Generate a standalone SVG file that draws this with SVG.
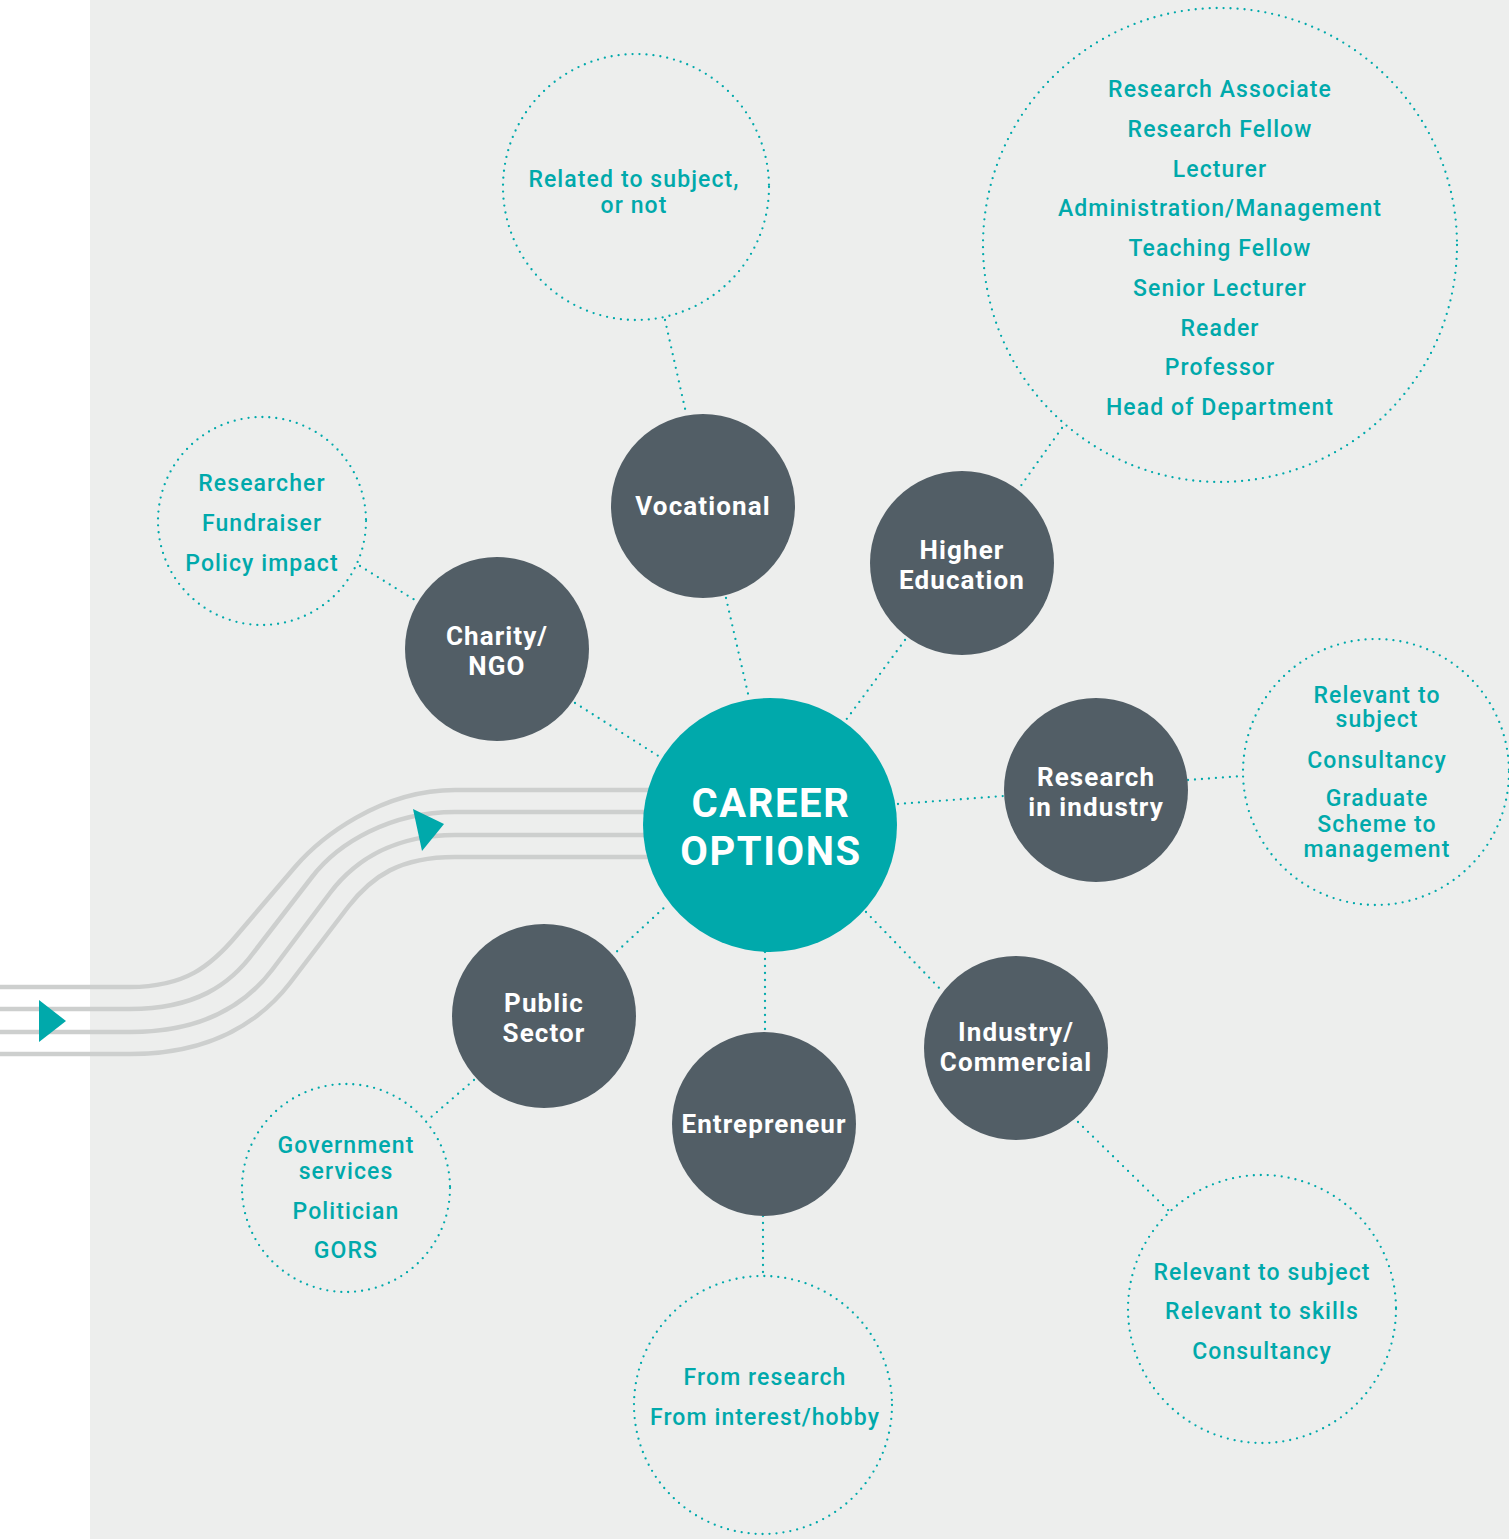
<svg xmlns="http://www.w3.org/2000/svg" width="1509" height="1539" viewBox="0 0 1509 1539">
<style>
.bg{fill:#edeeed}
.flow{fill:none;stroke:#cdcfce;stroke-width:4.5}
.arrow{fill:#00a9ab}
.dot{fill:none;stroke:#00a9ab;stroke-width:2.3;stroke-linecap:round;stroke-dasharray:0 7}
.node{fill:#525e66}
.hub{fill:#00a9ab}
.nt{font-family:Roboto,"Liberation Sans",sans-serif;font-weight:700;font-size:26px;fill:#ffffff;text-anchor:middle;letter-spacing:1.1px}
.ht{font-family:Roboto,"Liberation Sans",sans-serif;font-weight:700;font-size:40px;fill:#ffffff;text-anchor:middle;letter-spacing:1.6px}
.bt{font-family:Roboto,"Liberation Sans",sans-serif;font-weight:500;font-size:23px;fill:#00a9ab;text-anchor:middle;letter-spacing:1.1px}
</style>
<rect x="0" y="0" width="1509" height="1539" fill="#ffffff"/>
<rect class="bg" x="90" y="0" width="1419" height="1539"/>

<g id="flow-lines">
<path class="flow" d="M0 987 H130 C185 987 211 966 237 935 L295 867 C320 838 380 790 455 790 H660"/>
<path class="flow" d="M0 1009 H130 C195 1009 230 985 254 952 L312 877 C338 843 390 812 455 812 H660"/>
<path class="flow" d="M0 1032 H130 C205 1032 247 1003 272 970 L330 893 C355 860 395 835 455 835 H660"/>
<path class="flow" d="M0 1054 H130 C215 1054 263 1018 290 983 L348 907 C372 876 400 857 455 857 H660"/>
<polygon class="arrow" points="39,1000 39,1042 66,1021"/>
<polygon class="arrow" points="413,809 422,851 444,824"/>
</g>

<g id="connectors">
<line class="dot" x1="665" y1="320" x2="686" y2="413"/>
<line class="dot" x1="726" y1="598" x2="749" y2="698"/>
<line class="dot" x1="360" y1="566" x2="418" y2="602"/>
<line class="dot" x1="575" y1="703" x2="660" y2="757"/>
<line class="dot" x1="1062" y1="428" x2="1020" y2="487"/>
<line class="dot" x1="905" y1="640" x2="846" y2="720"/>
<line class="dot" x1="898" y1="804" x2="1004" y2="796"/>
<line class="dot" x1="1188" y1="780" x2="1243" y2="776"/>
<line class="dot" x1="866" y1="912" x2="943" y2="992"/>
<line class="dot" x1="1078" y1="1122" x2="1170" y2="1212"/>
<line class="dot" x1="765" y1="952" x2="765" y2="1032"/>
<line class="dot" x1="763" y1="1216" x2="763" y2="1276"/>
<line class="dot" x1="612" y1="956" x2="667" y2="905"/>
<line class="dot" x1="474" y1="1080" x2="430" y2="1118"/>
</g>

<g id="career-options">
<circle class="hub" cx="770" cy="825" r="127"/>
<text class="ht" x="771" y="817">CAREER</text>
<text class="ht" x="771" y="865">OPTIONS</text>
</g>

<g id="vocational">
<circle class="node" cx="703" cy="506" r="92"/>
<text class="nt" x="703" y="515">Vocational</text>
</g>
<g id="vocational-detail">
<circle class="dot" cx="636" cy="187" r="133"/>
<text class="bt" x="634" y="187">Related to subject,</text>
<text class="bt" x="634" y="213">or not</text>
</g>

<g id="higher-education">
<circle class="node" cx="962" cy="563" r="92"/>
<text class="nt" x="962" y="559">Higher</text>
<text class="nt" x="962" y="589">Education</text>
</g>
<g id="higher-education-detail">
<circle class="dot" cx="1220" cy="245" r="237"/>
<text class="bt" x="1220" y="97">Research Associate</text>
<text class="bt" x="1220" y="137">Research Fellow</text>
<text class="bt" x="1220" y="177">Lecturer</text>
<text class="bt" x="1220" y="216">Administration/Management</text>
<text class="bt" x="1220" y="256">Teaching Fellow</text>
<text class="bt" x="1220" y="296">Senior Lecturer</text>
<text class="bt" x="1220" y="336">Reader</text>
<text class="bt" x="1220" y="375">Professor</text>
<text class="bt" x="1220" y="415">Head of Department</text>
</g>

<g id="charity">
<circle class="node" cx="497" cy="649" r="92"/>
<text class="nt" x="497" y="645">Charity/</text>
<text class="nt" x="497" y="675">NGO</text>
</g>
<g id="charity-detail">
<circle class="dot" cx="262" cy="521" r="104"/>
<text class="bt" x="262" y="491">Researcher</text>
<text class="bt" x="262" y="531">Fundraiser</text>
<text class="bt" x="262" y="571">Policy impact</text>
</g>

<g id="research-in-industry">
<circle class="node" cx="1096" cy="790" r="92"/>
<text class="nt" x="1096" y="786">Research</text>
<text class="nt" x="1096" y="816">in industry</text>
</g>
<g id="research-in-industry-detail">
<circle class="dot" cx="1376" cy="772" r="133"/>
<text class="bt" x="1377" y="703">Relevant to</text>
<text class="bt" x="1377" y="727">subject</text>
<text class="bt" x="1377" y="768">Consultancy</text>
<text class="bt" x="1377" y="806">Graduate</text>
<text class="bt" x="1377" y="832">Scheme to</text>
<text class="bt" x="1377" y="857">management</text>
</g>

<g id="industry-commercial">
<circle class="node" cx="1016" cy="1048" r="92"/>
<text class="nt" x="1016" y="1041">Industry/</text>
<text class="nt" x="1016" y="1071">Commercial</text>
</g>
<g id="industry-commercial-detail">
<circle class="dot" cx="1262" cy="1309" r="134"/>
<text class="bt" x="1262" y="1280">Relevant to subject</text>
<text class="bt" x="1262" y="1319">Relevant to skills</text>
<text class="bt" x="1262" y="1359">Consultancy</text>
</g>

<g id="entrepreneur">
<circle class="node" cx="764" cy="1124" r="92"/>
<text class="nt" x="764" y="1133">Entrepreneur</text>
</g>
<g id="entrepreneur-detail">
<circle class="dot" cx="763" cy="1405" r="129"/>
<text class="bt" x="765" y="1385">From research</text>
<text class="bt" x="765" y="1425">From interest/hobby</text>
</g>

<g id="public-sector">
<circle class="node" cx="544" cy="1016" r="92"/>
<text class="nt" x="544" y="1012">Public</text>
<text class="nt" x="544" y="1042">Sector</text>
</g>
<g id="public-sector-detail">
<circle class="dot" cx="346" cy="1188" r="104"/>
<text class="bt" x="346" y="1153">Government</text>
<text class="bt" x="346" y="1179">services</text>
<text class="bt" x="346" y="1219">Politician</text>
<text class="bt" x="346" y="1258">GORS</text>
</g>
</svg>
